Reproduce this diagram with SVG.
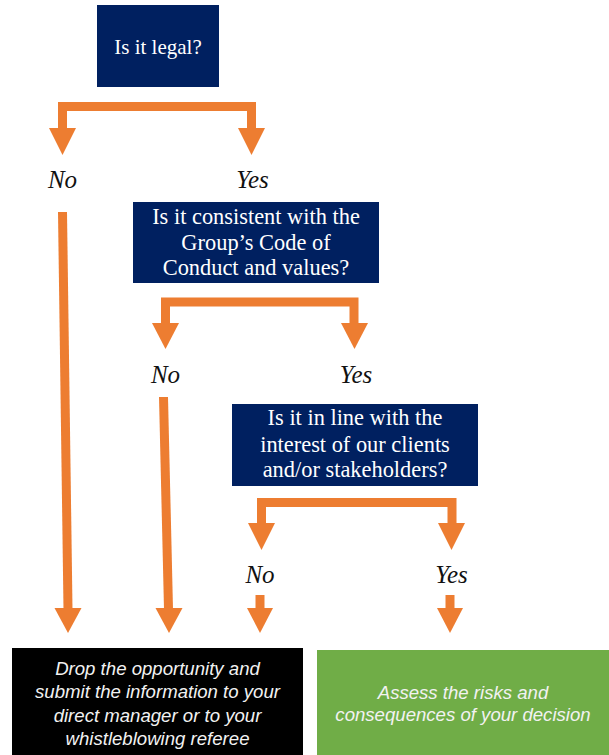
<svg xmlns="http://www.w3.org/2000/svg" width="609" height="755" viewBox="0 0 609 755">
<style>
.q{fill:#002060}
.qt{font-family:"Liberation Serif","Times New Roman",serif;fill:#ffffff;text-anchor:middle}
.lbl{font-family:"Liberation Serif","Times New Roman",serif;font-style:italic;font-size:25px;fill:#111111;text-anchor:middle}
.bt{font-family:"Liberation Sans",Arial,sans-serif;font-style:italic;font-size:18.6px;fill:#f2f2f2;text-anchor:middle}
.ln{fill:none;stroke:#ED7D31;stroke-width:9;stroke-linejoin:miter;stroke-linecap:butt}
.hd{fill:#ED7D31}
</style>
<rect width="609" height="755" fill="#ffffff"/>
<g id="q1">
<rect class="q" x="97" y="5" width="122" height="82"/>
<text class="qt" x="158" y="54" font-size="21">Is it legal?</text>
</g>
<g id="q2">
<rect class="q" x="133" y="202" width="246" height="81"/>
<text class="qt" x="256" y="224" font-size="22.4">Is it consistent with the</text>
<text class="qt" x="256" y="250" font-size="22.4">Group’s Code of</text>
<text class="qt" x="256" y="275" font-size="22.4">Conduct and values?</text>
</g>
<g id="q3">
<rect class="q" x="232" y="404" width="246" height="82"/>
<text class="qt" x="355" y="425" font-size="22.4">Is it in line with the</text>
<text class="qt" x="355" y="452" font-size="22.4">interest of our clients</text>
<text class="qt" x="355" y="477" font-size="22.4">and/or stakeholders?</text>
</g>
<g id="drop">
<rect x="12" y="648" width="291" height="107" fill="#000000"/>
<text class="bt" x="157.5" y="675">Drop the opportunity and</text>
<text class="bt" x="157.5" y="698">submit the information to your</text>
<text class="bt" x="157.5" y="722">direct manager or to your</text>
<text class="bt" x="157.5" y="745">whistleblowing referee</text>
</g>
<g id="assess">
<rect x="317" y="650" width="292" height="105" fill="#70AD47"/>
<text class="bt" x="463" y="699">Assess the risks and</text>
<text class="bt" x="463" y="721">consequences of your decision</text>
</g>
<g id="labels">
<text class="lbl" x="62.5" y="188">No</text>
<text class="lbl" x="252.5" y="188">Yes</text>
<text class="lbl" x="165.5" y="383">No</text>
<text class="lbl" x="356" y="383">Yes</text>
<text class="lbl" x="260" y="583">No</text>
<text class="lbl" x="451.5" y="583">Yes</text>
</g>
<g id="connectors">
<path class="ln" d="M62.5,129 V106.5 H251.5 V129"/>
<polygon class="hd" points="49,128 76,128 62.5,155"/>
<polygon class="hd" points="238,128 265,128 251.5,155"/>
<path class="ln" d="M165.5,324 V302 H354 V324"/>
<polygon class="hd" points="152,323 179,323 165.5,349"/>
<polygon class="hd" points="341,323 368,323 354.5,349"/>
<path class="ln" d="M261.5,524 V502.5 H452 V524"/>
<polygon class="hd" points="248,523 275,523 261.5,550"/>
<polygon class="hd" points="438,523 465,523 451.5,550"/>
<path class="ln" d="M62.5,212 L68,609"/>
<polygon class="hd" points="54.5,608 81.5,608 68,633"/>
<path class="ln" d="M163.5,397 L168.5,609"/>
<polygon class="hd" points="155.5,608 182.5,608 169,633"/>
<path class="ln" d="M260,595 V609"/>
<polygon class="hd" points="247,608 273,608 260,633"/>
<path class="ln" d="M450,595 V609"/>
<polygon class="hd" points="437,608 463,608 450,633"/>
</g>
</svg>
